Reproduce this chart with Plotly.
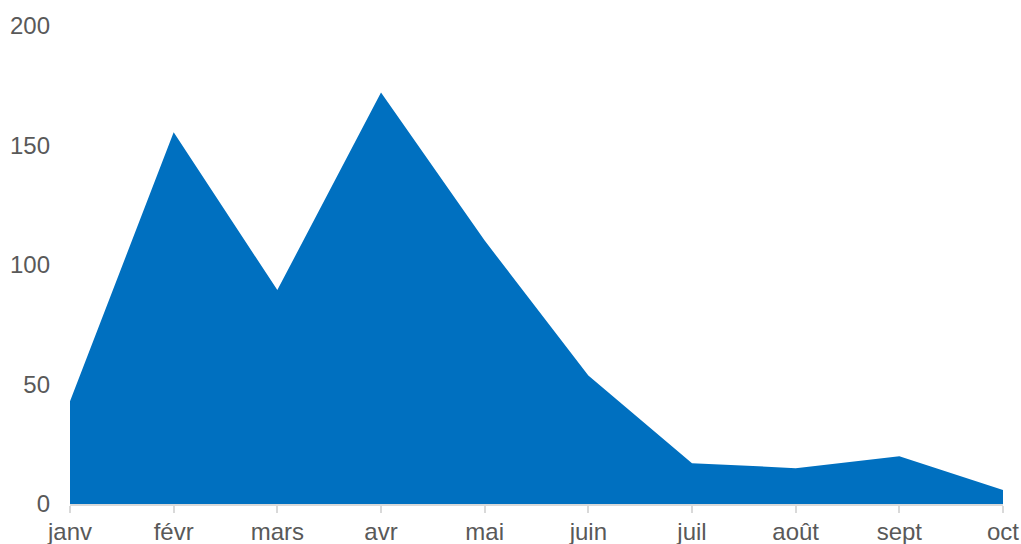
import plotly.graph_objects as go

months = ["janv", "févr", "mars", "avr", "mai", "juin", "juil", "août", "sept", "oct"]
values = [43, 155.5, 89.5, 172.2, 110.2, 53.8, 17.1, 15.0, 20.0, 5.9]

fig = go.Figure(
    go.Scatter(
        x=months,
        y=values,
        mode="lines",
        line=dict(width=0, color="#0070C0"),
        fill="tozeroy",
        fillcolor="#0070C0",
        hoverinfo="x+y",
    )
)

fig.update_layout(
    width=1021,
    height=544,
    margin=dict(l=70, r=18, t=26, b=40),
    paper_bgcolor="white",
    plot_bgcolor="white",
    showlegend=False,
    font=dict(family="Liberation Sans, Arial, sans-serif", size=24, color="#595959"),
)

fig.update_xaxes(
    type="category",
    range=[0, 9],
    automargin=False,
    showgrid=False,
    showline=True,
    linecolor="#d9d9d9",
    linewidth=2,
    ticks="outside",
    ticklen=7,
    tickcolor="#d9d9d9",
    tickwidth=2,
    ticklabelstandoff=-2,
    tickfont=dict(size=24, color="#595959"),
)

fig.update_yaxes(
    range=[0, 200],
    tickvals=[0, 50, 100, 150, 200],
    automargin=False,
    showgrid=False,
    zeroline=False,
    showline=False,
    ticklabelstandoff=19,
    tickfont=dict(size=24, color="#595959"),
)

fig.write_html("out.html")
